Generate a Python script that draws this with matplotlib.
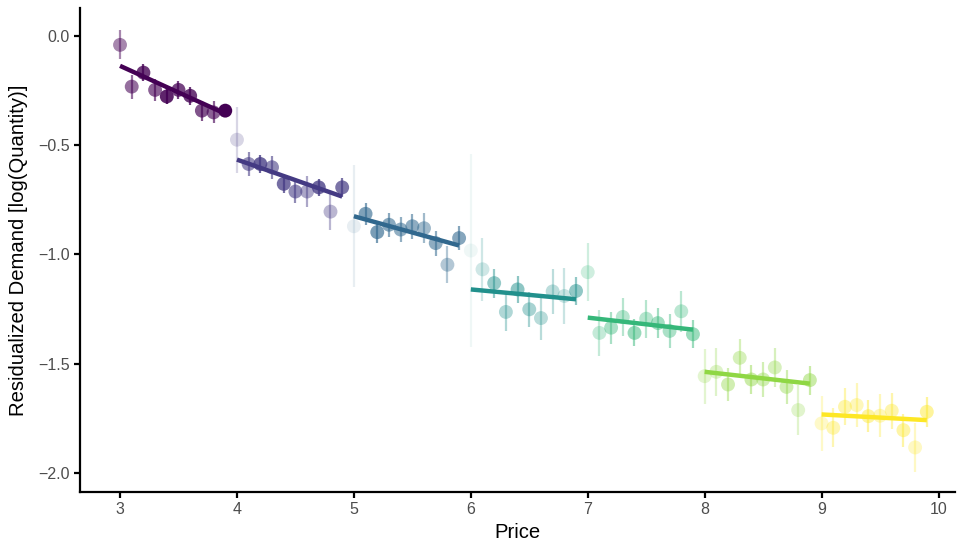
import numpy as np
import matplotlib
matplotlib.use("Agg")
import matplotlib.pyplot as plt

plt.rcParams['font.family'] = ['Liberation Sans', 'DejaVu Sans']

# price bins and residualized demand
price = np.round(np.arange(3.0, 10.0, 0.1), 1)
demand = [
    -0.041, -0.232, -0.168, -0.247, -0.277, -0.247, -0.274, -0.342, -0.350, -0.342,
    -0.475, -0.586, -0.586, -0.601, -0.677, -0.712, -0.712, -0.693, -0.804, -0.693,
    -0.871, -0.814, -0.898, -0.864, -0.886, -0.871, -0.880, -0.948, -1.047, -0.925,
    -0.982, -1.068, -1.131, -1.263, -1.160, -1.251, -1.291, -1.169, -1.190, -1.167,
    -1.081, -1.359, -1.335, -1.286, -1.359, -1.294, -1.314, -1.350, -1.260, -1.365,
    -1.557, -1.537, -1.595, -1.473, -1.572, -1.572, -1.517, -1.606, -1.712, -1.575,
    -1.773, -1.793, -1.697, -1.689, -1.740, -1.738, -1.715, -1.804, -1.883, -1.720,
]
std_err = [
    0.066, 0.055, 0.040, 0.050, 0.036, 0.042, 0.040, 0.046, 0.050, 0.015,
    0.150, 0.055, 0.040, 0.053, 0.042, 0.053, 0.070, 0.040, 0.084, 0.044,
    0.280, 0.050, 0.048, 0.055, 0.059, 0.057, 0.068, 0.057, 0.084, 0.053,
    0.440, 0.143, 0.066, 0.088, 0.061, 0.080, 0.099, 0.103, 0.129, 0.063,
    0.132, 0.107, 0.074, 0.088, 0.062, 0.086, 0.068, 0.076, 0.093, 0.064,
    0.126, 0.109, 0.076, 0.085, 0.067, 0.078, 0.088, 0.077, 0.116, 0.066,
    0.125, 0.090, 0.084, 0.100, 0.072, 0.099, 0.082, 0.076, 0.114, 0.068,
]

# per price band fitted line: start / end value
band_start = [3, 4, 5, 6, 7, 8, 9]
fit_start = [-0.137, -0.566, -0.825, -1.160, -1.289, -1.537, -1.732]
fit_end = [-0.356, -0.735, -0.959, -1.205, -1.344, -1.591, -1.758]

colors = ['#440154', '#443A83', '#31688E', '#21908C', '#35B779', '#8FD744', '#FDE725']

demand = np.array(demand)
std_err = np.array(std_err)
alpha = np.clip(0.031 / std_err, 0.07, 1.0)

fig = plt.figure(figsize=(9.62, 5.47), dpi=100)
ax = fig.add_axes([0.0832, 0.1005, 0.910, 0.885])

for i, b in enumerate(band_start):
    idx = np.where(np.floor(price + 1e-9) == b)[0]
    for j in idx:
        ax.plot([price[j], price[j]], [demand[j] - std_err[j], demand[j] + std_err[j]],
                color=colors[i], alpha=alpha[j], lw=1.6, solid_capstyle='butt', zorder=2)
        ax.scatter(price[j], demand[j], s=100, color=colors[i], alpha=alpha[j],
                   edgecolors='none', zorder=3)
    ax.plot([b, b + 0.9], [fit_start[i], fit_end[i]], color=colors[i], lw=3.2,
            solid_capstyle='butt', zorder=4)

ax.set_xlim(2.658, 10.145)
ax.set_ylim(-2.087, 0.128)
ax.set_xticks(range(3, 11))
ax.set_yticks([0.0, -0.5, -1.0, -1.5, -2.0])
ax.set_yticklabels(['0.0', '\u22120.5', '\u22121.0', '\u22121.5', '\u22122.0'])

for s in ['top', 'right']:
    ax.spines[s].set_visible(False)
for s in ['left', 'bottom']:
    ax.spines[s].set_linewidth(1.6)
ax.tick_params(width=1.6, length=4, color='black', labelsize=11.5, labelcolor='#4D4D4D')

ax.set_xlabel('Price', fontsize=14.6, labelpad=4)
ax.set_ylabel('Residualized Demand [log(Quantity)]', fontsize=14.6, labelpad=7)

fig.savefig('out.png', dpi=100)
